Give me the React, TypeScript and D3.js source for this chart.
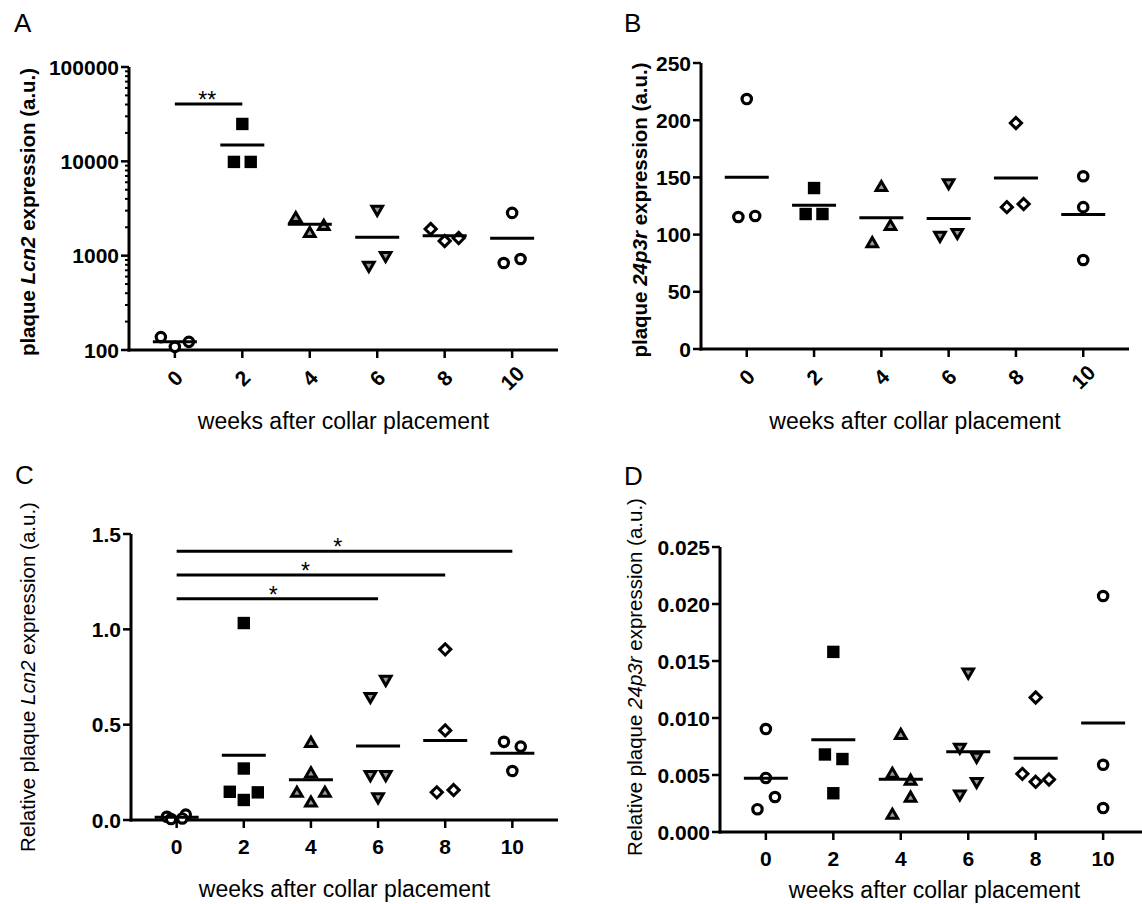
import React from 'react';
import * as d3 from 'd3';

const FONT = "'Liberation Sans', Arial, Helvetica, sans-serif";

// ---------------- data ----------------
const WEEKS = ['0', '2', '4', '6', '8', '10'];
const GROUP_SYMBOLS = ['circle', 'square', 'triangle', 'triangleDown', 'diamond', 'circle'];

// Panel A: plaque Lcn2 expression (log scale)
const A_VALUES = [
  [137, 108, 122],
  [24900, 9860, 9860],
  [2570, 1783, 2117],
  [2980, 759, 968],
  [1920, 1432, 1540],
  [2840, 836, 922],
];
const A_LANES = [
  [-1, 0, 1],
  [0, -0.6, 0.6],
  [-1, 0, 1],
  [0, -0.6, 0.6],
  [-1, 0, 1],
  [0, -0.6, 0.6],
];
const A_TICKS = [100, 1000, 10000, 100000];
const A_SIG = [{ from: '0', to: '2', value: 40500, label: '**' }];

// Panel B: plaque 24p3r expression
const B_VALUES = [
  [218.5, 115.4, 116.3],
  [140.7, 118, 118],
  [142.5, 93.5, 108.4],
  [144, 98, 100.5],
  [197.5, 124, 126.7],
  [151, 124, 77.8],
];
const B_LANES = [
  [0, -0.6, 0.6],
  [0, -0.6, 0.6],
  [0, -0.65, 0.65],
  [0, -0.62, 0.62],
  [0, -0.65, 0.55],
  [0, 0, 0],
];
const B_TICKS = [0, 50, 100, 150, 200, 250];

// Panel C: relative plaque Lcn2 expression
const C_VALUES = [
  [0.017, 0.005, 0.028, 0.008],
  [1.033, 0.27, 0.148, 0.145, 0.105],
  [0.41, 0.25, 0.148, 0.148, 0.097],
  [0.73, 0.64, 0.23, 0.23, 0.113],
  [0.895, 0.47, 0.145, 0.157],
  [0.41, 0.385, 0.257],
];
const C_LANES = [
  [-0.7, -0.4, 0.65, 0.4],
  [0, 0, -1, 1, 0],
  [0, 0, -1, 1, 0],
  [0.55, -0.55, -0.55, 0.55, 0],
  [0, 0, -0.6, 0.6],
  [-0.6, 0.6, 0],
];
const C_TICKS = [0, 0.5, 1.0, 1.5];
const C_SIG = [
  { from: '0', to: '10', value: 1.41, label: '*' },
  { from: '0', to: '8', value: 1.285, label: '*' },
  { from: '0', to: '6', value: 1.16, label: '*' },
];

// Panel D: relative plaque 24p3r expression
const D_VALUES = [
  [0.00903, 0.00474, 0.00307, 0.002],
  [0.0158, 0.0068, 0.0064, 0.0034],
  [0.0086, 0.0052, 0.0046, 0.0031, 0.0016],
  [0.0139, 0.0073, 0.0065, 0.0043, 0.0032],
  [0.0118, 0.0051, 0.0044, 0.0046],
  [0.0207, 0.0059, 0.0021],
];
const D_LANES = [
  [0, 0, 0.65, -0.6],
  [0, -0.6, 0.65, 0],
  [0, -0.6, 0.7, 0.7, -0.6],
  [0, -0.6, 0.6, 0.6, -0.6],
  [0, -0.95, 0, 0.95],
  [0, 0, 0],
];
const D_TICKS = [0, 0.005, 0.01, 0.015, 0.02, 0.025];

// ---------------- drawing ----------------
const LANE = 14;
const MEAN_HALF = 22;

type Sig = { from: string; to: string; value: number; label: string };
type PanelProps = {
  letter: string;
  letterX: number;
  letterY: number;
  x0: number;
  x1: number;
  yTop: number;
  yBottom: number;
  log?: boolean;
  domain: [number, number];
  ticks: number[];
  fmt: (v: number) => string;
  values: number[][];
  lanes: number[][];
  sig?: Sig[];
  rotateX: boolean;
  titleParts: [string, string, string];
  titleBold: boolean;
  titleX: number;
  titleY: number;
  xTitleY: number;
};

function Marker({ kind, cx, cy }: { kind: string; cx: number; cy: number }) {
  if (kind === 'circle') {
    return <circle cx={cx} cy={cy} r={4.7} fill="#fff" stroke="#000" strokeWidth={3.2} />;
  }
  if (kind === 'square') {
    return <rect x={cx - 6.2} y={cy - 6.2} width={12.4} height={12.4} fill="#000" />;
  }
  if (kind === 'triangle' || kind === 'triangleDown') {
    const s = 10.6;
    const h = s * 0.866;
    const d = kind === 'triangle' ? 1 : -1;
    const path = `M${cx},${cy - (d * h) / 2}L${cx + s / 2},${cy + (d * h) / 2}L${cx - s / 2},${cy + (d * h) / 2}Z`;
    return <path d={path} fill="#999" stroke="#000" strokeWidth={3} strokeLinejoin="miter" />;
  }
  // diamond
  const r = 5.6;
  const path = `M${cx},${cy - r}L${cx + r},${cy}L${cx},${cy + r}L${cx - r},${cy}Z`;
  return <path d={path} fill="#fff" stroke="#000" strokeWidth={3} strokeLinejoin="miter" />;
}

function Panel(p: PanelProps) {
  const x = d3.scalePoint<string>().domain(WEEKS).range([p.x0, p.x1]).padding(0.68);
  const y: any = p.log
    ? d3.scaleLog().domain(p.domain).range([p.yBottom, p.yTop])
    : d3.scaleLinear().domain(p.domain).range([p.yBottom, p.yTop]);

  const minor: number[] = [];
  if (p.log) {
    for (let dec = p.domain[0]; dec < p.domain[1]; dec *= 10) {
      for (let m = 2; m <= 9; m++) minor.push(dec * m);
    }
  }

  const xMid = (p.x0 + p.x1) / 2;

  return (
    <g fontFamily={FONT} fill="#000">
      <text x={p.letterX} y={p.letterY} fontSize={26}>{p.letter}</text>

      {/* y axis */}
      <line x1={p.x0} x2={p.x0} y1={p.yTop} y2={p.yBottom + 1.5} stroke="#000" strokeWidth={3} />
      {p.ticks.map((t) => (
        <g key={'yt' + t}>
          <line x1={p.x0 - 8} x2={p.x0} y1={y(t)} y2={y(t)} stroke="#000" strokeWidth={2.5} />
          <text x={p.x0 - 10} y={y(t)} textAnchor="end" dominantBaseline="central" fontSize={21} fontWeight="bold">
            {p.fmt(t)}
          </text>
        </g>
      ))}
      {minor.map((t) => (
        <line key={'mt' + t} x1={p.x0 - 4} x2={p.x0} y1={y(t)} y2={y(t)} stroke="#000" strokeWidth={2} />
      ))}

      {/* x axis */}
      <line x1={p.x0 - 1.5} x2={p.x1} y1={p.yBottom} y2={p.yBottom} stroke="#000" strokeWidth={3} />
      {WEEKS.map((w) => (
        <g key={'xt' + w}>
          <line x1={x(w)} x2={x(w)} y1={p.yBottom} y2={p.yBottom + 8} stroke="#000" strokeWidth={2.5} />
          {p.rotateX ? (
            <text
              transform={`translate(${x(w)},${p.yBottom + 28}) rotate(-45)`}
              textAnchor="middle"
              dominantBaseline="central"
              fontSize={21}
              fontWeight="bold"
            >
              {w}
            </text>
          ) : (
            <text x={x(w)} y={p.yBottom + 26} textAnchor="middle" dominantBaseline="central" fontSize={21} fontWeight="bold">
              {w}
            </text>
          )}
        </g>
      ))}

      {/* y title */}
      <text
        transform={`translate(${p.titleX},${p.titleY}) rotate(-90)`}
        textAnchor="middle"
        dominantBaseline="central"
        fontSize={p.titleBold ? 20.5 : 20.5}
        fontWeight={p.titleBold ? 'bold' : 'normal'}
      >
        <tspan>{p.titleParts[0]}</tspan>
        <tspan fontStyle="italic">{p.titleParts[1]}</tspan>
        <tspan>{p.titleParts[2]}</tspan>
      </text>

      {/* x title */}
      <text x={xMid} y={p.xTitleY} textAnchor="middle" fontSize={23}>
        weeks after collar placement
      </text>

      {/* points */}
      {p.values.map((grp, gi) =>
        grp.map((v, i) => (
          <Marker
            key={`p${gi}-${i}`}
            kind={GROUP_SYMBOLS[gi]}
            cx={(x(WEEKS[gi]) as number) + p.lanes[gi][i] * LANE}
            cy={y(v)}
          />
        ))
      )}

      {/* mean lines */}
      {p.values.map((grp, gi) => {
        const m = d3.mean(grp) as number;
        const cx = x(WEEKS[gi]) as number;
        return (
          <line key={'m' + gi} x1={cx - MEAN_HALF} x2={cx + MEAN_HALF} y1={y(m)} y2={y(m)} stroke="#000" strokeWidth={3} />
        );
      })}

      {/* significance */}
      {(p.sig || []).map((s, i) => {
        const xa = x(s.from) as number;
        const xb = x(s.to) as number;
        const yy = y(s.value);
        return (
          <g key={'s' + i}>
            <line x1={xa} x2={xb} y1={yy} y2={yy} stroke="#000" strokeWidth={3} />
            <text x={xa + (xb - xa) * 0.48} y={yy + 4} textAnchor="middle" fontSize={23}>
              {s.label}
            </text>
          </g>
        );
      })}
    </g>
  );
}

export default function App() {
  const fInt = d3.format('d');
  const f1 = d3.format('.1f');
  const f3 = d3.format('.3f');
  return (
    <svg
      width={1142}
      height={904}
      viewBox="0 0 1142 904"
      style={{ position: 'absolute', left: 0, top: 0, background: '#fff' }}
    >
      <rect width={1142} height={904} fill="#fff" />
      <Panel
        letter="A"
        letterX={14}
        letterY={32}
        x0={129}
        x1={558}
        yTop={67}
        yBottom={350}
        log
        domain={[100, 100000]}
        ticks={A_TICKS}
        fmt={fInt}
        values={A_VALUES}
        lanes={A_LANES}
        sig={A_SIG}
        rotateX
        titleParts={['plaque ', 'Lcn2', ' expression (a.u.)']}
        titleBold
        titleX={27}
        titleY={212}
        xTitleY={429}
      />
      <Panel
        letter="B"
        letterX={624}
        letterY={32}
        x0={701}
        x1={1129}
        yTop={63}
        yBottom={349}
        domain={[0, 250]}
        ticks={B_TICKS}
        fmt={fInt}
        values={B_VALUES}
        lanes={B_LANES}
        rotateX
        titleParts={['plaque ', '24p3r', ' expression (a.u.)']}
        titleBold
        titleX={639}
        titleY={210}
        xTitleY={429}
      />
      <Panel
        letter="C"
        letterX={15}
        letterY={484}
        x0={131}
        x1={558}
        yTop={534}
        yBottom={820}
        domain={[0, 1.5]}
        ticks={C_TICKS}
        fmt={f1}
        values={C_VALUES}
        lanes={C_LANES}
        sig={C_SIG}
        rotateX={false}
        titleParts={['Relative plaque ', 'Lcn2', ' expression (a.u.)']}
        titleBold={false}
        titleX={27}
        titleY={677}
        xTitleY={897}
      />
      <Panel
        letter="D"
        letterX={624}
        letterY={485}
        x0={720}
        x1={1149}
        yTop={547}
        yBottom={832}
        domain={[0, 0.025]}
        ticks={D_TICKS}
        fmt={f3}
        values={D_VALUES}
        lanes={D_LANES}
        rotateX={false}
        titleParts={['Relative plaque ', '24p3r', ' expression (a.u.)']}
        titleBold={false}
        titleX={634}
        titleY={677}
        xTitleY={898}
      />
    </svg>
  );
}
